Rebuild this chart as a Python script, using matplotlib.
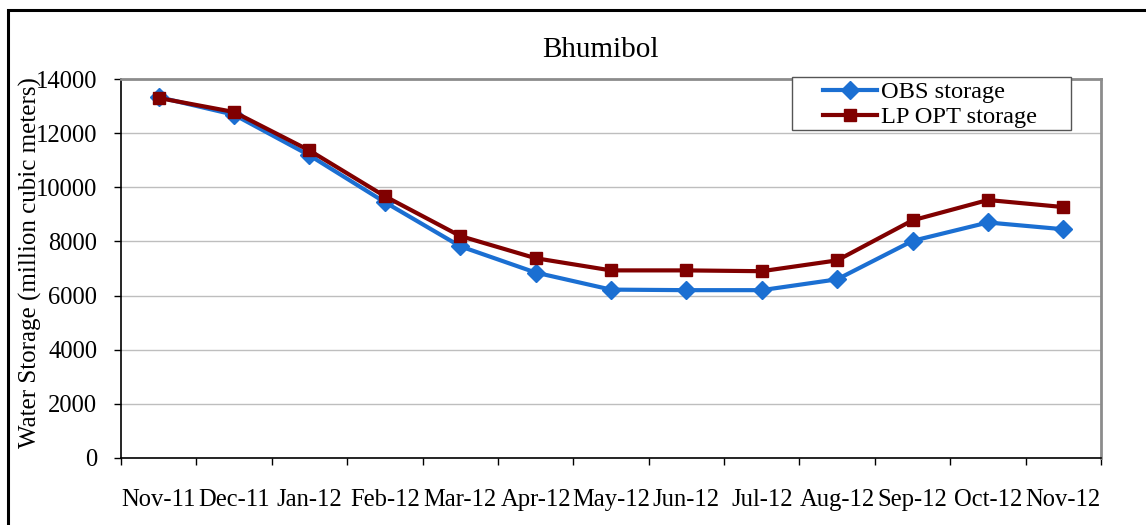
import numpy as np
import matplotlib
matplotlib.use("Agg")
from matplotlib import pyplot as plt
from matplotlib.patches import Rectangle

months = ["Nov-11", "Dec-11", "Jan-12", "Feb-12", "Mar-12", "Apr-12", "May-12",
          "Jun-12", "Jul-12", "Aug-12", "Sep-12", "Oct-12", "Nov-12"]
obs_storage = [13330, 12680, 11180, 9450, 7820, 6850, 6220, 6200, 6200, 6600, 8020, 8700, 8450]
lp_opt_storage = [13300, 12780, 11360, 9670, 8200, 7380, 6930, 6930, 6900, 7300, 8780, 9530, 9270]
y_ticks = [0, 2000, 4000, 6000, 8000, 10000, 12000, 14000]

plt.rcParams['font.family'] = ['Liberation Serif', 'DejaVu Serif']

fig = plt.figure(figsize=(11.46, 5.25), dpi=100)
ax = fig.add_axes([121 / 1146, 1 - 458 / 525, 980 / 1146, 379 / 525])

x = np.arange(len(months))
ax.plot(x, obs_storage, color='#1B6FD2', lw=3, marker='D', ms=9.5,
        label='OBS storage', zorder=3)
ax.plot(x, lp_opt_storage, color='#800000', lw=3, marker='s', ms=8.5,
        label='LP OPT storage', zorder=4)

ax.set_xlim(-0.5, len(months) - 0.5)
ax.set_ylim(0, 14000)
ax.set_yticks(y_ticks)
ax.set_yticklabels([str(v) for v in y_ticks], fontsize=17.7)
ax.tick_params(axis='y', length=5, width=1, pad=12, direction='out')

# category boundaries get tick marks, labels sit at category centres
ax.set_xticks(np.arange(len(months) + 1) - 0.5)
ax.set_xticklabels([])
ax.set_xticks(x, minor=True)
ax.set_xticklabels(months, minor=True, fontsize=17.7)
ax.tick_params(axis='x', which='major', length=5, width=1, direction='out')
ax.tick_params(axis='x', which='minor', length=0, pad=22)

ax.grid(axis='y', color='#BEBEBE', lw=1)
ax.set_axisbelow(True)
for side in ['top', 'right']:
    ax.spines[side].set_color('#8C8C8C')
    ax.spines[side].set_linewidth(2)
ax.spines['left'].set_color('black')
ax.spines['bottom'].set_color('black')
ax.spines['left'].set_linewidth(1.2)
ax.spines['bottom'].set_linewidth(1.2)

fig.text(0.5237, 1 - 50 / 525, 'Bhumibol', ha='center', va='center', fontsize=21)
fig.text(30 / 1146, 1 - 263 / 525, 'Water Storage (million cubic meters)',
         rotation=90, ha='center', va='center', fontsize=18)

# legend box drawn separately: wide left padding, tight top/bottom
fig.patches.append(Rectangle((792 / 1146, 1 - 130 / 525), 279 / 1146, 53 / 525,
                             transform=fig.transFigure, facecolor='white',
                             edgecolor='#555555', lw=1, zorder=5))
leg = fig.legend(loc='upper left', bbox_to_anchor=(823 / 1146, 1 - 81 / 525),
                 fontsize=17.6, frameon=False, handlelength=2.2,
                 handletextpad=0.16, borderpad=0, labelspacing=0.12,
                 borderaxespad=0)
leg.set_zorder(6)

# outer chart border (right and bottom run off the image)
fig.patches.append(Rectangle((8 / 1146, -0.1), 1.2, 1.1 - 10 / 525,
                             transform=fig.transFigure, fill=False,
                             edgecolor='black', lw=2.2))

fig.savefig('out.png', dpi=100)
